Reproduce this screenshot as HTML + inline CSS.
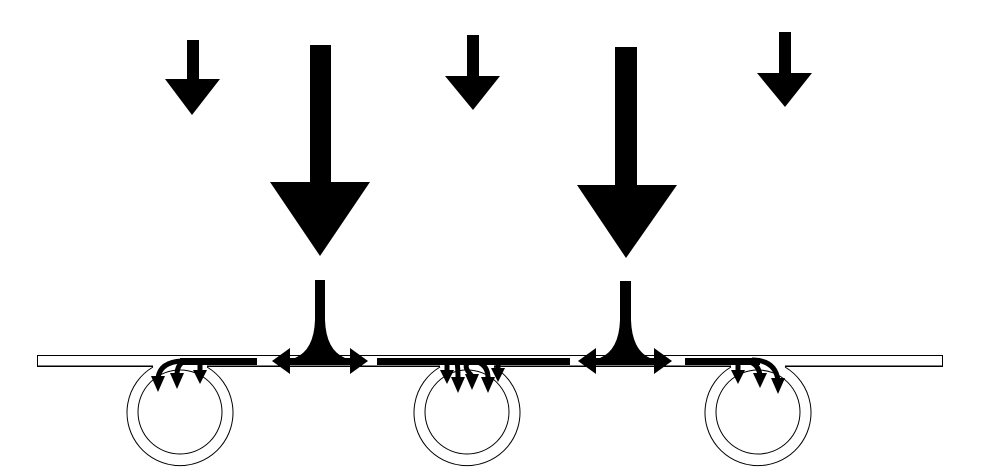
<!DOCTYPE html>
<html><head><style>body{margin:0;background:#fff}</style></head><body>
<svg width="1001" height="467" viewBox="0 0 1001 467" xmlns="http://www.w3.org/2000/svg">
<g fill="#000">
<polygon points="187,40 199,40 199,79 220,79 192,115 165,79 187,79"/>
<polygon points="467,35 479,35 479,76 500,76 473,110 445,76 467,76"/>
<polygon points="779,32 791,32 791,73 812,73 785,107 757,73 779,73"/>
<polygon points="310,45 331,45 331,182 370,182 320,256 270,182 310,182"/>
<polygon points="615,47 637,47 637,185 677,185 626,258 577,185 615,185"/>
</g>
<rect x="37.5" y="355.5" width="905" height="11" fill="#fff" stroke="#000"/>
<g fill="none" stroke="#000" stroke-width="1">
<path d="M153,367 A53,53 0 1 0 207,367"/>
<circle cx="180" cy="412" r="42"/>
<path d="M440,367 A53,53 0 1 0 494,367"/>
<circle cx="467" cy="412" r="42"/>
<path d="M731,367 A53,53 0 1 0 785,367"/>
<circle cx="758" cy="412" r="42"/>
</g>
<rect x="153" y="356" width="54" height="11" fill="#fff"/>
<rect x="440" y="356" width="54" height="11" fill="#fff"/>
<rect x="731" y="356" width="54" height="11" fill="#fff"/>
<line x1="37" y1="366" x2="153" y2="366" stroke="#000"/>
<line x1="207" y1="366" x2="440" y2="366" stroke="#000"/>
<line x1="494" y1="366" x2="731" y2="366" stroke="#000"/>
<line x1="785" y1="366" x2="942" y2="366" stroke="#000"/>
<g fill="#000">
<rect x="180" y="358" width="77" height="7"/>
<rect x="377" y="358" width="193" height="7"/>
<rect x="685" y="358" width="75" height="7"/>
<rect x="290" y="358" width="60" height="7"/>
<polygon points="272,361 290,348 290,374"/>
<polygon points="368,361 350,348 350,374"/>
<path d="M315,280 L325,280 L325,320 Q326,350 345,358 L295,358 Q314,350 315,320 Z"/>
<rect x="594" y="358" width="60" height="7"/>
<polygon points="578,361 596,348 596,374"/>
<polygon points="672,361 654,348 654,374"/>
<path d="M620,281 L631,281 L631,320 Q632,350 650,358 L600,358 Q619,350 620,320 Z"/>
</g>
<g fill="none" stroke="#000" stroke-width="5">
<path d="M182,361 Q160,362 158,378"/>
<path d="M185,361 Q177,364 177,375"/>
<path d="M200,362 L200,372"/>
<path d="M447,362 L447,372"/>
<path d="M457,362 Q458,368 458,378"/>
<path d="M469,362 Q462,366 472,376"/>
<path d="M478,362 Q488,366 488,378"/>
<path d="M498,362 L498,370"/>
<path d="M738,362 L738,372"/>
<path d="M745,361 Q758,362 760,375"/>
<path d="M752,360 Q775,360 778,380"/>
</g>
<g fill="#000">
<polygon points="151,376 165,376 158,392"/>
<polygon points="170,373 184,373 177,389"/>
<polygon points="193,370 207,370 200,384"/>
<polygon points="440,370 454,370 447,384"/>
<polygon points="451,377 465,377 458,393"/>
<polygon points="465,374 479,374 472,390"/>
<polygon points="481,377 495,377 488,393"/>
<polygon points="491,368 505,368 498,382"/>
<polygon points="731,370 745,370 738,384"/>
<polygon points="753,373 767,373 760,388"/>
<polygon points="771,378 785,378 778,394"/>
</g>
</svg>
</body></html>
